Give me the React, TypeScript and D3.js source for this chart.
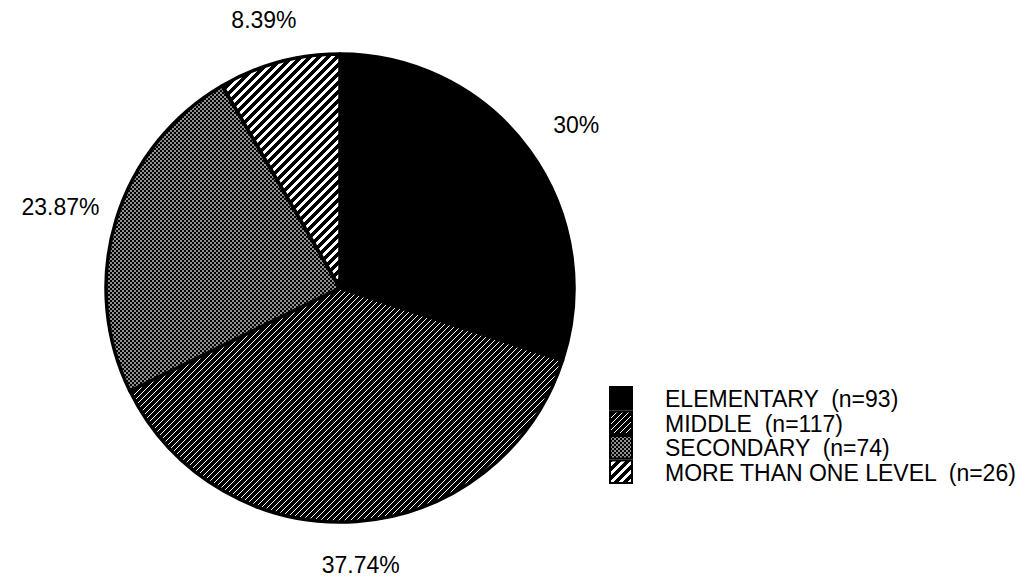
import React from "react";
import * as d3 from "d3";

const categories = ["ELEMENTARY", "MIDDLE", "SECONDARY", "MORE THAN ONE LEVEL"];
const counts = [93, 117, 74, 26];
const percentLabels = ["30%", "37.74%", "23.87%", "8.39%"];
const fills = ["#000", "url(#hatchDense)", "url(#checker)", "url(#hatchOpen)"];

const W = 1034;
const H = 578;
const cx = 340;
const cy = 288;
const R = 234;
// labels sit on an ellipse just outside the pie
const labelRx = 292;
const labelRy = 278;

function slashPath(p: number) {
  return `M-2,2 l4,-4 M0,${p} L${p},0 M${p - 2},${p + 2} l4,-4`;
}

export default function App() {
  const pie = d3
    .pie<number>()
    .sort(null)
    .value((d) => d)
    .startAngle(0)
    .endAngle(2 * Math.PI);
  const arcs = pie(counts);
  const arc = d3.arc<d3.PieArcDatum<number>>().innerRadius(0).outerRadius(R);

  const legendY = d3.scaleBand<string>().domain(categories).range([387, 483]).paddingInner(0.08);

  return (
    <svg
      width={W}
      height={H}
      style={{ position: "absolute", left: 0, top: 0, background: "#fff" }}
      fontFamily="'Liberation Sans', Arial, sans-serif"
    >
      <defs>
        <pattern id="hatchDense" width="6" height="6" patternUnits="userSpaceOnUse">
          <rect width="6" height="6" fill="#fff" />
          <path d={slashPath(6)} stroke="#000" strokeWidth={3.2} shapeRendering="crispEdges" />
        </pattern>
        <pattern id="hatchOpen" width="9" height="9" patternUnits="userSpaceOnUse">
          <rect width="9" height="9" fill="#fff" />
          <path d={slashPath(9)} stroke="#000" strokeWidth={3.1} shapeRendering="crispEdges" />
        </pattern>
        <pattern id="checker" width="4" height="4" patternUnits="userSpaceOnUse">
          <rect width="4" height="4" fill="#000" />
          <rect x="0.25" y="0.25" width="1.5" height="1.5" fill="#fff" />
          <rect x="2.25" y="2.25" width="1.5" height="1.5" fill="#fff" />
        </pattern>
      </defs>

      <g transform={`translate(${cx},${cy})`}>
        {arcs.map((a, i) => (
          <path key={categories[i]} d={arc(a) || ""} fill={fills[i]} stroke="#000" strokeWidth={3.5} strokeLinejoin="round" />
        ))}
        {arcs.map((a, i) => {
          const mid = (a.startAngle + a.endAngle) / 2;
          const x = labelRx * Math.sin(mid);
          const y = -labelRy * Math.cos(mid);
          return (
            <text key={"l" + i} x={x} y={y} textAnchor="middle" dominantBaseline="central" fontSize={23} fill="#000">
              {percentLabels[i]}
            </text>
          );
        })}
      </g>

      <g>
        {categories.map((c, i) => {
          const y = legendY(c) || 0;
          const h = legendY.bandwidth();
          return (
            <g key={"lg" + c}>
              <rect x={610} y={y} width={22} height={h} fill={fills[i]} stroke="#000" strokeWidth={2} />
              <text x={665} y={y + h / 2 + 1} dominantBaseline="central" fontSize={23} fill="#000" xmlSpace="preserve">
                {`${c}  (n=${counts[i]})`}
              </text>
            </g>
          );
        })}
      </g>
    </svg>
  );
}
